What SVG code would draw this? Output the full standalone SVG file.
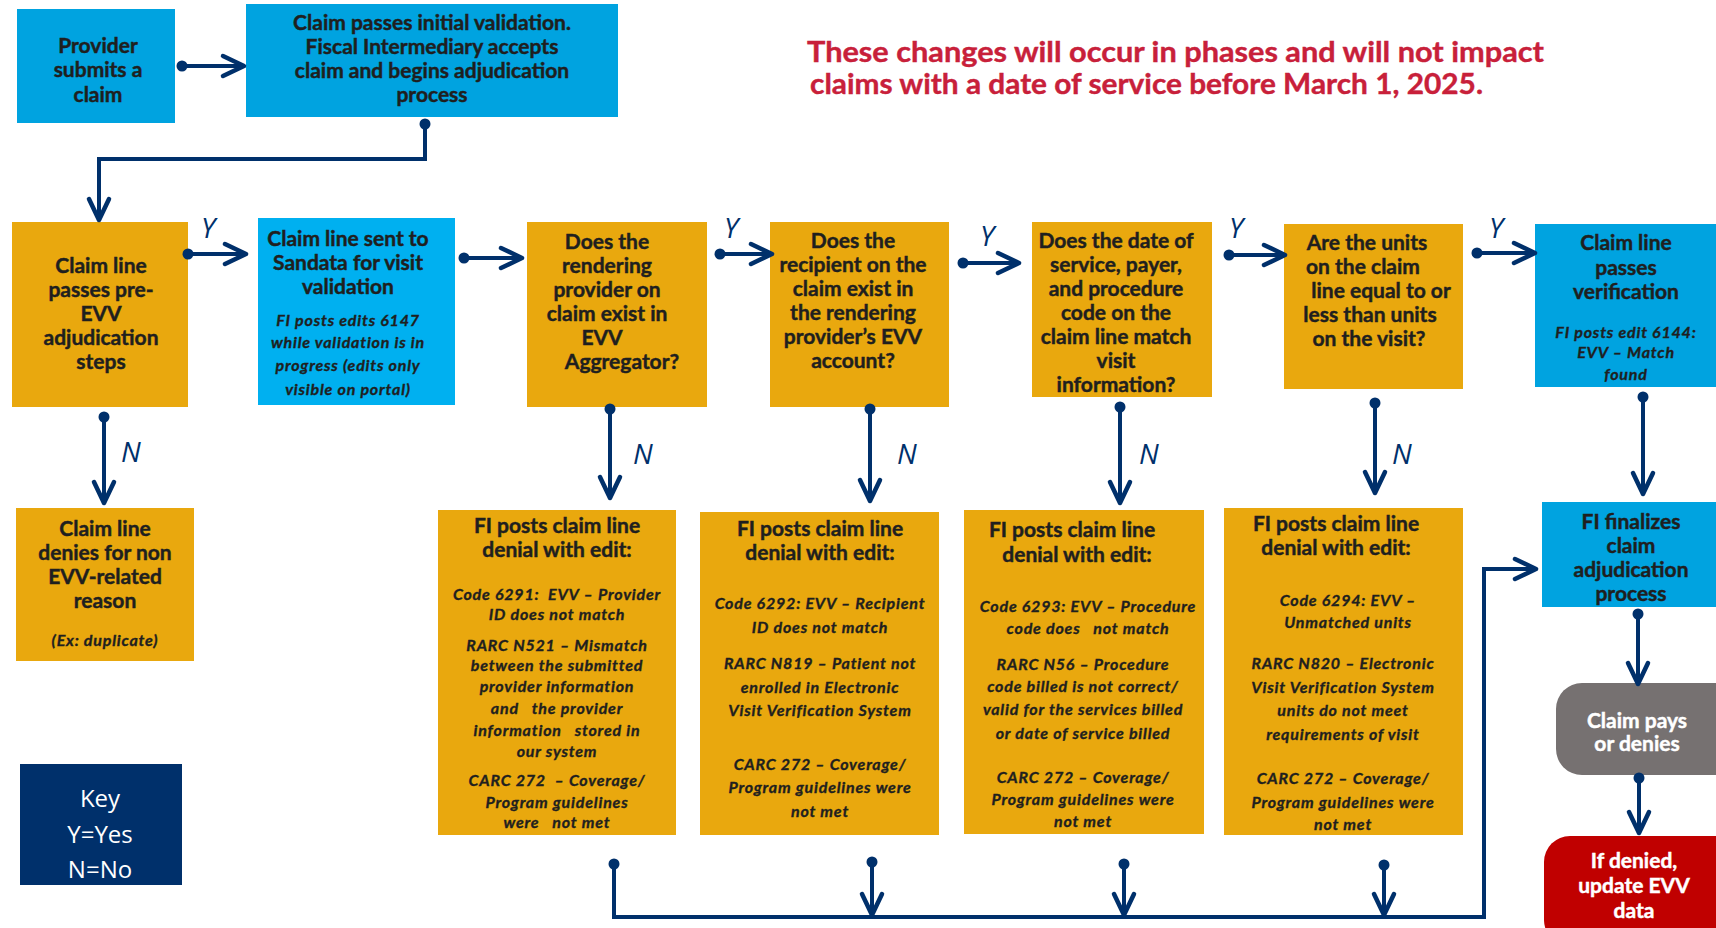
<svg xmlns="http://www.w3.org/2000/svg" width="1716" height="928" viewBox="0 0 1716 928">
<defs>
<style>
.bo{fill:#E9A80E}
.bb{fill:#00A3E0}
.bc{fill:#00B0F0}
.t{font-family:Lato,"Liberation Sans",sans-serif;font-weight:700;font-size:21px;fill:#1F1F1F;stroke:#1F1F1F;stroke-width:0.45px;text-anchor:middle;white-space:pre}
.i{font-style:italic;font-size:16px;letter-spacing:0.8px;stroke-width:0.35px}
.w{fill:#FFFFFF;stroke:#FFFFFF}
.c{stroke:#00306B;stroke-width:4;fill:none}
.yn{font-family:"Open Sans","Liberation Sans",sans-serif;font-style:italic;font-size:28px;fill:#00306B}
.title{font-family:Lato,"Liberation Sans",sans-serif;font-weight:700;font-size:29px;fill:#C8203A;stroke:#C8203A;stroke-width:0.4px}
.key{font-family:"Open Sans","Liberation Sans",sans-serif;font-size:24px;fill:#FFFFFF;text-anchor:middle}
</style>
<marker id="ar" markerUnits="userSpaceOnUse" markerWidth="28" markerHeight="26" refX="24" refY="13" orient="auto" overflow="visible">
<path d="M3,3 L24,13 L3,23" fill="none" stroke="#00306B" stroke-width="4.5" stroke-linecap="round" stroke-linejoin="round"/>
</marker>
<marker id="dt" markerUnits="userSpaceOnUse" markerWidth="14" markerHeight="14" refX="7" refY="7" overflow="visible">
<circle cx="7" cy="7" r="5.5" fill="#00306B"/>
</marker>
</defs>
<rect width="1716" height="928" fill="#FFFFFF"/>

<g id="title">
<text class="title" x="807" y="62" textLength="737" lengthAdjust="spacingAndGlyphs">These changes will occur in phases and will not impact</text>
<text class="title" x="810" y="94" textLength="673" lengthAdjust="spacingAndGlyphs">claims with a date of service before March 1, 2025.</text>
</g>

<g id="provider">
<rect class="bb" x="17" y="9" width="158" height="114"/>
<text class="t" x="98" y="53">Provider</text>
<text class="t" x="98" y="77">submits a</text>
<text class="t" x="98" y="102">claim</text>
</g>

<g id="initial-validation">
<rect class="bb" x="246" y="4" width="372" height="113"/>
<text class="t" x="432" y="30">Claim passes initial validation.</text>
<text class="t" x="432" y="54">Fiscal Intermediary accepts</text>
<text class="t" x="432" y="78">claim and begins adjudication</text>
<text class="t" x="432" y="102">process</text>
</g>

<g id="pre-evv">
<rect class="bo" x="12" y="222" width="176" height="185"/>
<text class="t" x="101" y="273">Claim line</text>
<text class="t" x="101" y="297">passes pre-</text>
<text class="t" x="101" y="321">EVV</text>
<text class="t" x="101" y="345">adjudication</text>
<text class="t" x="101" y="369">steps</text>
</g>

<g id="sandata">
<rect class="bc" x="258" y="218" width="197" height="187"/>
<text class="t" x="348" y="246">Claim line sent to</text>
<text class="t" x="348" y="270">Sandata for visit</text>
<text class="t" x="348" y="294">validation</text>
<text class="t i" x="348" y="326">FI posts edits 6147</text>
<text class="t i" x="348" y="348">while validation is in</text>
<text class="t i" x="348" y="371">progress (edits only</text>
<text class="t i" x="348" y="395">visible on portal)</text>
</g>

<g id="q-provider">
<rect class="bo" x="527" y="222" width="180" height="185"/>
<text class="t" x="607" y="249">Does the</text>
<text class="t" x="607" y="273">rendering</text>
<text class="t" x="607" y="297">provider on</text>
<text class="t" x="607" y="321">claim exist in</text>
<text class="t" x="602" y="345">EVV</text>
<text class="t" x="622" y="369">Aggregator?</text>
</g>

<g id="q-recipient">
<rect class="bo" x="770" y="222" width="179" height="185"/>
<text class="t" x="853" y="248">Does the</text>
<text class="t" x="853" y="272">recipient on the</text>
<text class="t" x="853" y="296">claim exist in</text>
<text class="t" x="853" y="320">the rendering</text>
<text class="t" x="853" y="344">provider’s EVV</text>
<text class="t" x="853" y="368">account?</text>
</g>

<g id="q-date">
<rect class="bo" x="1032" y="222" width="180" height="175"/>
<text class="t" x="1116" y="248">Does the date of</text>
<text class="t" x="1116" y="272">service, payer,</text>
<text class="t" x="1116" y="296">and procedure</text>
<text class="t" x="1116" y="320">code on the</text>
<text class="t" x="1116" y="344">claim line match</text>
<text class="t" x="1116" y="368">visit</text>
<text class="t" x="1116" y="392">information?</text>
</g>

<g id="q-units">
<rect class="bo" x="1284" y="224" width="179" height="165"/>
<text class="t" x="1367" y="250">Are the units</text>
<text class="t" x="1363" y="274">on the claim</text>
<text class="t" x="1381" y="298">line equal to or</text>
<text class="t" x="1370" y="322">less than units</text>
<text class="t" x="1369" y="346">on the visit?</text>
</g>

<g id="verification">
<rect class="bb" x="1535" y="224" width="181" height="163"/>
<text class="t" x="1626" y="250">Claim line</text>
<text class="t" x="1626" y="275">passes</text>
<text class="t" x="1626" y="299">verification</text>
<text class="t i" x="1626" y="338">FI posts edit 6144:</text>
<text class="t i" x="1626" y="358">EVV – Match</text>
<text class="t i" x="1626" y="380">found</text>
</g>

<g id="non-evv-denial">
<rect class="bo" x="16" y="508" width="178" height="153"/>
<text class="t" x="105" y="536">Claim line</text>
<text class="t" x="105" y="560">denies for non</text>
<text class="t" x="105" y="584">EVV-related</text>
<text class="t" x="105" y="608">reason</text>
<text class="t i" x="105" y="646">(Ex: duplicate)</text>
</g>

<g id="denial-6291">
<rect class="bo" x="438" y="510" width="238" height="325"/>
<text class="t" x="557" y="533">FI posts claim line</text>
<text class="t" x="557" y="557">denial with edit:</text>
<text class="t i" x="557" y="600">Code 6291:  EVV – Provider</text>
<text class="t i" x="557" y="620">ID does not match</text>
<text class="t i" x="557" y="651">RARC N521 – Mismatch</text>
<text class="t i" x="557" y="671">between the submitted</text>
<text class="t i" x="557" y="692">provider information</text>
<text class="t i" x="557" y="714">and   the provider</text>
<text class="t i" x="557" y="736">information   stored in</text>
<text class="t i" x="557" y="757">our system</text>
<text class="t i" x="557" y="786">CARC 272  – Coverage/</text>
<text class="t i" x="557" y="808">Program guidelines</text>
<text class="t i" x="557" y="828">were   not met</text>
</g>

<g id="denial-6292">
<rect class="bo" x="700" y="512" width="239" height="323"/>
<text class="t" x="820" y="536">FI posts claim line</text>
<text class="t" x="820" y="560">denial with edit:</text>
<text class="t i" x="820" y="609">Code 6292: EVV – Recipient</text>
<text class="t i" x="820" y="633">ID does not match</text>
<text class="t i" x="820" y="669">RARC N819 – Patient not</text>
<text class="t i" x="820" y="693">enrolled in Electronic</text>
<text class="t i" x="820" y="716">Visit Verification System</text>
<text class="t i" x="820" y="770">CARC 272 – Coverage/</text>
<text class="t i" x="820" y="793">Program guidelines were</text>
<text class="t i" x="820" y="817">not met</text>
</g>

<g id="denial-6293">
<rect class="bo" x="964" y="510" width="240" height="324"/>
<text class="t" x="1072" y="537">FI posts claim line</text>
<text class="t" x="1077" y="562">denial with edit:</text>
<text class="t i" x="1088" y="612">Code 6293: EVV – Procedure</text>
<text class="t i" x="1088" y="634">code does   not match</text>
<text class="t i" x="1083" y="670">RARC N56 – Procedure</text>
<text class="t i" x="1083" y="692">code billed is not correct/</text>
<text class="t i" x="1083" y="715">valid for the services billed</text>
<text class="t i" x="1083" y="739">or date of service billed</text>
<text class="t i" x="1083" y="783">CARC 272 – Coverage/</text>
<text class="t i" x="1083" y="805">Program guidelines were</text>
<text class="t i" x="1083" y="827">not met</text>
</g>

<g id="denial-6294">
<rect class="bo" x="1224" y="508" width="239" height="327"/>
<text class="t" x="1336" y="531">FI posts claim line</text>
<text class="t" x="1336" y="555">denial with edit:</text>
<text class="t i" x="1348" y="606">Code 6294: EVV –</text>
<text class="t i" x="1348" y="628">Unmatched units</text>
<text class="t i" x="1343" y="669">RARC N820 – Electronic</text>
<text class="t i" x="1343" y="693">Visit Verification System</text>
<text class="t i" x="1343" y="716">units do not meet</text>
<text class="t i" x="1343" y="740">requirements of visit</text>
<text class="t i" x="1343" y="784">CARC 272 – Coverage/</text>
<text class="t i" x="1343" y="808">Program guidelines were</text>
<text class="t i" x="1343" y="830">not met</text>
</g>

<g id="finalize">
<rect class="bb" x="1542" y="502" width="174" height="105"/>
<text class="t" x="1631" y="529">FI finalizes</text>
<text class="t" x="1631" y="553">claim</text>
<text class="t" x="1631" y="577">adjudication</text>
<text class="t" x="1631" y="601">process</text>
</g>

<g id="pays-denies">
<rect x="1556" y="683" width="190" height="92" rx="26" fill="#767171"/>
<text class="t w" x="1637" y="728">Claim pays</text>
<text class="t w" x="1637" y="751">or denies</text>
</g>

<g id="update-evv">
<rect x="1544" y="836" width="200" height="110" rx="26" fill="#C00000"/>
<text class="t w" x="1634" y="868">If denied,</text>
<text class="t w" x="1634" y="893">update EVV</text>
<text class="t w" x="1634" y="918">data</text>
</g>

<g id="key">
<rect x="20" y="764" width="162" height="121" fill="#00306B"/>
<text class="key" x="100" y="807">Key</text>
<text class="key" x="100" y="843">Y=Yes</text>
<text class="key" x="100" y="878">N=No</text>
</g>

<g id="connectors">
<path class="c" d="M182,66 H244" marker-start="url(#dt)" marker-end="url(#ar)"/>
<path class="c" d="M425,124 V159 H99 V220" marker-start="url(#dt)" marker-end="url(#ar)"/>
<path class="c" d="M188,254 H246" marker-start="url(#dt)" marker-end="url(#ar)"/>
<path class="c" d="M464,258 H522" marker-start="url(#dt)" marker-end="url(#ar)"/>
<path class="c" d="M720,254 H772" marker-start="url(#dt)" marker-end="url(#ar)"/>
<path class="c" d="M963,263 H1019" marker-start="url(#dt)" marker-end="url(#ar)"/>
<path class="c" d="M1229,255 H1285" marker-start="url(#dt)" marker-end="url(#ar)"/>
<path class="c" d="M1477,253 H1535" marker-start="url(#dt)" marker-end="url(#ar)"/>
<path class="c" d="M104,417 V503" marker-start="url(#dt)" marker-end="url(#ar)"/>
<path class="c" d="M610,409 V498" marker-start="url(#dt)" marker-end="url(#ar)"/>
<path class="c" d="M870,409 V501" marker-start="url(#dt)" marker-end="url(#ar)"/>
<path class="c" d="M1120,407 V503" marker-start="url(#dt)" marker-end="url(#ar)"/>
<path class="c" d="M1375,403 V493" marker-start="url(#dt)" marker-end="url(#ar)"/>
<path class="c" d="M1643,397 V494" marker-start="url(#dt)" marker-end="url(#ar)"/>
<path class="c" d="M1638,614 V684" marker-start="url(#dt)" marker-end="url(#ar)"/>
<path class="c" d="M1639,778 V833" marker-start="url(#dt)" marker-end="url(#ar)"/>
<path class="c" d="M614,864 V917 H1484 V569 H1536" marker-start="url(#dt)" marker-end="url(#ar)"/>
<path class="c" d="M872,862 V915" marker-start="url(#dt)" marker-end="url(#ar)"/>
<path class="c" d="M1124,864 V915" marker-start="url(#dt)" marker-end="url(#ar)"/>
<path class="c" d="M1384,865 V915" marker-start="url(#dt)" marker-end="url(#ar)"/>
<text class="yn" x="201" y="238">Y</text>
<text class="yn" x="724" y="238">Y</text>
<text class="yn" x="980" y="246">Y</text>
<text class="yn" x="1229" y="238">Y</text>
<text class="yn" x="1489" y="238">Y</text>
<text class="yn" x="121" y="462">N</text>
<text class="yn" x="633" y="464">N</text>
<text class="yn" x="897" y="464">N</text>
<text class="yn" x="1139" y="464">N</text>
<text class="yn" x="1392" y="464">N</text>
</g>
</svg>
